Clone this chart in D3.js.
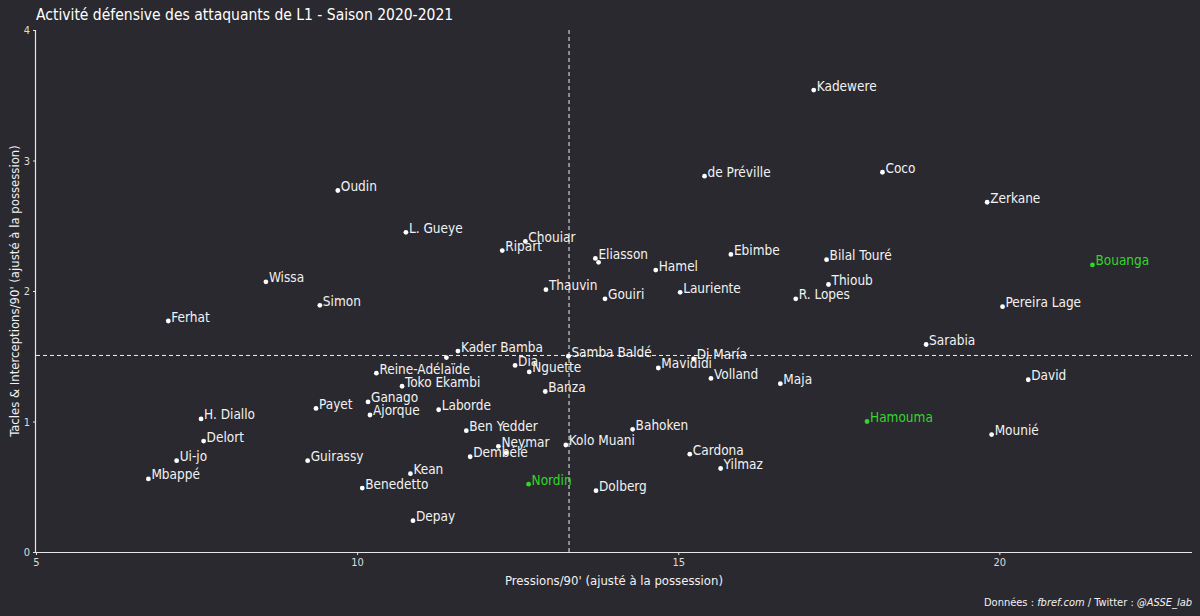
<!DOCTYPE html>
<html>
<head>
<meta charset="utf-8">
<script src="https://cdn.jsdelivr.net/npm/d3@7"></script>
<style>
  html, body { margin: 0; padding: 0; background: #2a292f; }
  svg { display: block; }
  text { font-family: "Liberation Sans Narrow", "DejaVu Sans Condensed", "Roboto", sans-serif; }
</style>
</head>
<body>
<svg id="chart" width="1200" height="616"></svg>
<script>
// ---- Data ----
const players = ["Kadewere","Coco","de Préville","Zerkane","Oudin","L. Gueye","Chouiar","Ripart","Eliasson","",
  "Ebimbe","Bilal Touré","Bouanga","Hamel","Wissa","Thioub","Thauvin","Lauriente","Gouiri","R. Lopes",
  "Simon","Pereira Lage","Ferhat","Sarabia","Kader Bamba","","Samba Baldé","Di María","Dia","Mavididi",
  "Reine-Adélaïde","Nguette","Volland","David","Maja","Toko Ekambi","Banza","Ganago","Payet","Laborde",
  "Ajorque","H. Diallo","Hamouma","Bahoken","Ben Yedder","Mounié","Delort","Kolo Muani","Neymar","",
  "Dembélé","Cardona","Ui-jo","Guirassy","Yilmaz","Kean","Mbappé","Nordin","Benedetto","Dolberg","Depay"];
const pressions = [17.11,18.18,15.41,19.81,9.70,10.76,12.62,12.26,13.71,13.76,
  15.82,17.31,21.45,14.65,8.58,17.34,12.94,15.03,13.86,16.83,
  9.42,20.05,7.06,18.86,11.57,11.39,13.29,15.24,12.46,14.69,
  10.30,12.68,15.51,20.45,16.59,10.70,12.93,10.17,9.36,11.27,
  10.20,7.57,17.94,14.29,11.70,19.88,7.61,13.25,12.20,12.32,
  11.76,15.18,7.19,9.23,15.66,10.83,6.75,12.67,10.08,13.72,10.87];
const tacklesInt = [3.54,2.91,2.88,2.68,2.77,2.45,2.38,2.31,2.25,2.22,
  2.28,2.24,2.20,2.16,2.07,2.05,2.01,1.99,1.94,1.94,
  1.89,1.88,1.77,1.59,1.54,1.49,1.50,1.48,1.43,1.41,
  1.37,1.38,1.33,1.32,1.29,1.27,1.23,1.15,1.10,1.09,
  1.05,1.02,1.00,0.94,0.93,0.90,0.85,0.82,0.81,0.76,
  0.73,0.75,0.70,0.70,0.64,0.60,0.56,0.52,0.49,0.47,0.24];
const highlighted = ["Bouanga","Hamouma","Nordin"];
const meanPressions = 13.30;
const meanTacklesInt = 1.506;
const xTicks = [5,10,15,20];
const yTicks = [0,1,2,3,4];
const titleText = "Activité défensive des attaquants de L1 - Saison 2020-2021";
const xTitle = "Pressions/90' (ajusté à la possession)";
const yTitle = "Tacles & Interceptions/90' (ajusté à la possession)";

// ---- Chart ----
(function () {
const svg = d3.select("#chart");
const W = 1200, H = 616;
const pL = 36, pR = 1192, pT = 30, pB = 552;
const textCol = "#f2f2f2", axisCol = "#e6e6e6", green = "#33d62b";

const x = d3.scaleLinear().domain([5, 23]).range([pL, pR]);
const y = d3.scaleLinear().domain([0, 4]).range([pB, pT]);

svg.append("rect").attr("width", W).attr("height", H).attr("fill", "#2a292f");

// axes
const xAxis = svg.append("g").attr("transform", `translate(0,${pB})`)
  .call(d3.axisBottom(x).tickValues(xTicks).tickSize(3).tickPadding(3).tickFormat(d3.format("d")));
const yAxis = svg.append("g").attr("transform", `translate(${pL},0)`)
  .call(d3.axisLeft(y).tickValues(yTicks).tickSize(3).tickPadding(3).tickFormat(d3.format("d")));
[xAxis, yAxis].forEach(g => {
  g.select(".domain").attr("stroke", axisCol).attr("stroke-width", 1.2);
  g.selectAll(".tick line").attr("stroke", axisCol);
  g.selectAll(".tick text").attr("fill", "#dcdcdc").style("font-size", "11px");
});
xAxis.select(".domain").attr("d", `M${pL},0.5H${pR}`);
yAxis.select(".domain").attr("d", `M-0.5,${pB}V${pT}`);

// mean lines
svg.append("line").attr("x1", x(meanPressions)).attr("x2", x(meanPressions))
  .attr("y1", pT).attr("y2", pB)
  .attr("stroke", "#f0f0f0").attr("stroke-width", 1).attr("stroke-dasharray", "4,3");
svg.append("line").attr("x1", pL).attr("x2", pR)
  .attr("y1", y(meanTacklesInt)).attr("y2", y(meanTacklesInt))
  .attr("stroke", "#f0f0f0").attr("stroke-width", 1).attr("stroke-dasharray", "4,3");

// points
const data = players.map((p, i) => ({name: p, px: pressions[i], ti: tacklesInt[i]}));
const isHi = d => highlighted.includes(d.name);

svg.append("g").selectAll("circle").data(data).join("circle")
  .attr("cx", d => x(d.px)).attr("cy", d => y(d.ti)).attr("r", 2.4)
  .attr("fill", d => isHi(d) ? green : "#ffffff");

svg.append("g").selectAll("text").data(data.filter(d => d.name)).join("text")
  .attr("x", d => x(d.px) + 3).attr("y", d => y(d.ti) + 0.5)
  .attr("fill", d => isHi(d) ? green : textCol)
  .style("font-size", "13.5px")
  .text(d => d.name);

// titles
svg.append("text").attr("x", 36).attr("y", 20).attr("fill", "#ffffff")
  .style("font-size", "15.5px").style("font-weight", "500").text(titleText);
svg.append("text").attr("x", (pL + pR) / 2).attr("y", 585).attr("text-anchor", "middle")
  .attr("fill", textCol).style("font-size", "13px").text(xTitle);
svg.append("text").attr("transform", `translate(19,${(pT + pB) / 2}) rotate(-90)`)
  .attr("text-anchor", "middle").attr("fill", textCol).style("font-size", "13px").text(yTitle);

// caption
const cap = svg.append("text").attr("x", pR).attr("y", 606).attr("text-anchor", "end")
  .attr("fill", textCol).style("font-size", "11px");
cap.append("tspan").text("Données : ");
cap.append("tspan").style("font-style", "italic").text("fbref.com");
cap.append("tspan").text(" / Twitter : ");
cap.append("tspan").style("font-style", "italic").text("@ASSE_lab");
})();
</script>
</body>
</html>
